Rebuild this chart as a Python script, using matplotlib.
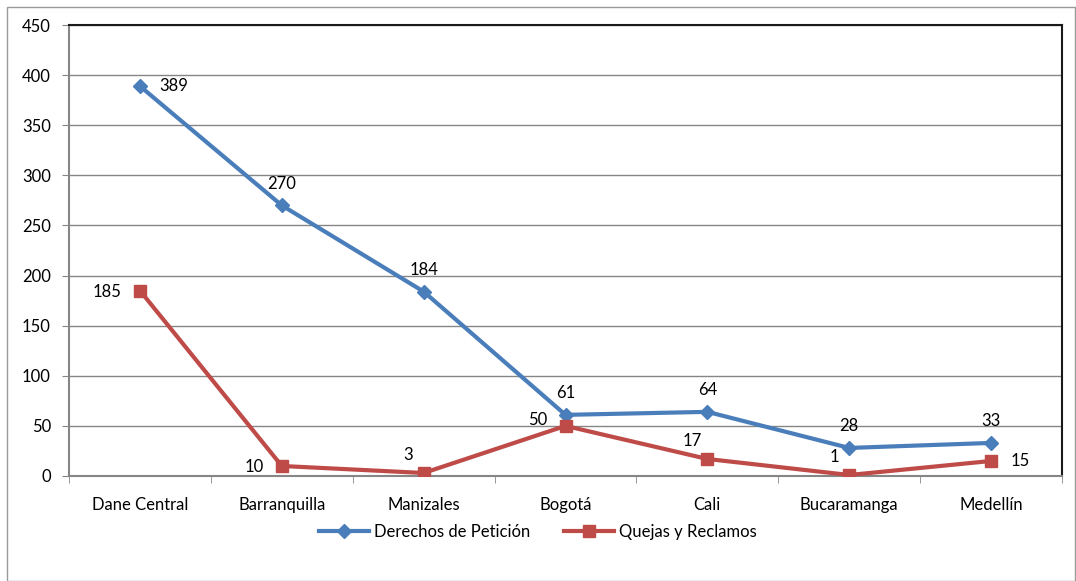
import matplotlib
matplotlib.use("Agg")
import matplotlib.pyplot as plt
from matplotlib.patches import Rectangle

categories = ["Dane Central", "Barranquilla", "Manizales", "Bogotá", "Cali", "Bucaramanga", "Medellín"]
derechos = [389, 270, 184, 61, 64, 28, 33]
quejas = [185, 10, 3, 50, 17, 1, 15]
yticks = [0, 50, 100, 150, 200, 250, 300, 350, 400, 450]

der_pos = ["right", "above", "above", "above", "above", "above", "above"]
que_pos = ["left", "left", "upleft", "leftup", "upleft", "upleft", "right"]

plt.rcParams['font.family'] = ['Lato', 'DejaVu Sans']

W, H = 1076, 581
fig = plt.figure(figsize=(W/100, H/100), dpi=100)
fig.patches.append(Rectangle((7/W, 0), (W-7-1)/W, (H-7)/H, transform=fig.transFigure,
                             fill=False, edgecolor="#9a9a9a", linewidth=1))
ax = fig.add_axes([69/W, 1-476/H, (1062-69)/W, (476-25)/H])

x = list(range(len(categories)))
blue = "#4a7ebb"
red = "#be4b48"
ax.plot(x, derechos, color=blue, linewidth=3, marker="D", markersize=7, label="Derechos de Petición", zorder=3)
ax.plot(x, quejas, color=red, linewidth=3, marker="s", markersize=9, label="Quejas y Reclamos", zorder=3)

FS = 12

def place(vals, pos):
    for i, (v, p) in enumerate(zip(vals, pos)):
        if p == "right":
            off, ha, va = (14, 0), "left", "center"
        elif p == "left":
            off, ha, va = (-13, -1), "right", "center"
        elif p == "leftup":
            off, ha, va = (-13, 4), "right", "center"
        elif p == "upleft":
            off, ha, va = (-11, 7), "center", "bottom"
        else:
            off, ha, va = (0, 10), "center", "bottom"
        ax.annotate(str(v), (x[i], v), xytext=off, textcoords="offset points",
                    ha=ha, va=va, fontsize=FS, color="black", zorder=4)

place(derechos, der_pos)
place(quejas, que_pos)

ax.set_xlim(-0.5, len(categories) - 0.5)
ax.set_ylim(0, 450)
ax.set_yticks(yticks)
ax.set_xticks(x)
ax.set_xticklabels(categories)
ax.set_xticks([i - 0.5 for i in range(len(categories) + 1)], minor=True)
ax.tick_params(axis="x", which="major", length=0, pad=15, labelsize=FS)
ax.tick_params(axis="x", which="minor", length=5, color="#868686")
ax.tick_params(axis="y", length=5, color="#868686", labelsize=FS, pad=8)
ax.grid(axis="y", color="#868686", linewidth=1)
ax.set_axisbelow(True)
for s in ["left", "bottom"]:
    ax.spines[s].set_color("#868686")
    ax.spines[s].set_linewidth(1.5)
for s in ["top", "right"]:
    ax.spines[s].set_color("#1a1a1a")
    ax.spines[s].set_linewidth(1.5)

fig.legend(loc="center", bbox_to_anchor=(0.5, 1-532/H), ncol=2, frameon=False,
           fontsize=FS, handlelength=3, columnspacing=2.0, handletextpad=0.3)

fig.savefig("out.png", dpi=100)
